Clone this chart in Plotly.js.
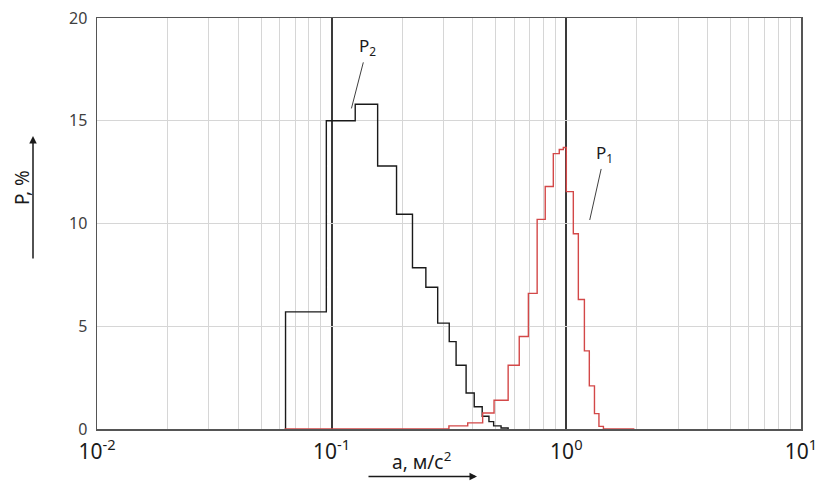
<!DOCTYPE html>
<html>
<head>
<meta charset="utf-8">
<script src="https://cdn.plot.ly/plotly-3.0.1.min.js"></script>
<style>html,body{margin:0;padding:0;background:#fff;}#chart{width:822px;height:481px;}</style>
</head>
<body>
<div id="chart"></div>
<script>
// Bin edges (a, m/s^2) and percentages
const edgesP2 = [0.0636, 0.0949, 0.126, 0.157, 0.189, 0.221, 0.252, 0.283, 0.317, 0.339, 0.374, 0.405, 0.438, 0.468, 0.49, 0.527, 0.565];
const valuesP2 = [5.7, 15.0, 15.8, 12.8, 10.45, 7.85, 6.9, 5.15, 4.25, 3.1, 1.75, 1.08, 0.62, 0.36, 0.15, 0.05];

const edgesP1 = [0.063, 0.316, 0.38, 0.44, 0.492, 0.565, 0.63, 0.689, 0.751, 0.813, 0.88, 0.933, 0.971, 1.0, 1.071, 1.125, 1.194, 1.253, 1.318, 1.377, 1.439, 1.95];
const valuesP1 = [0, 0.15, 0.3, 0.78, 1.4, 3.1, 4.5, 6.6, 10.2, 11.8, 13.4, 13.6, 13.7, 11.55, 9.5, 6.3, 3.8, 2.1, 0.75, 0.13, 0];

// Axis tick labels
const xTickVals = [0.01, 0.1, 1, 10];
const xTickText = ['10<sup>-2</sup>', '10<sup>-1</sup>', '10<sup>0</sup>', '10<sup>1</sup>'];
const yTickVals = [0, 5, 10, 15, 20];

const labelP2 = {text: 'P<sub>2</sub>', tipX: 0.1214, tipY: 15.6};
const labelP1 = {text: 'P<sub>1</sub>', tipX: 1.258, tipY: 10.17};

const FONT = 'Noto Sans, Open Sans, Liberation Sans, sans-serif';

// minor grid positions: 2..9 within each decade
const minorVals = [];
xTickVals.slice(0, -1).forEach(function (d) {
  for (let k = 2; k <= 9; k++) minorVals.push(d * k);
});

const traceP2 = {
  x: [edgesP2[0]].concat(edgesP2),
  y: [0].concat(valuesP2, [0]),
  type: 'scatter', mode: 'lines',
  line: {shape: 'hv', color: '#1a1a1a', width: 1.4},
  hoverinfo: 'skip'
};
const traceP1 = {
  x: [edgesP1[0]].concat(edgesP1),
  y: [0].concat(valuesP1, [0]),
  type: 'scatter', mode: 'lines',
  line: {shape: 'hv', color: '#d34848', width: 1.4},
  hoverinfo: 'skip'
};

const layout = {
  width: 822, height: 481,
  margin: {l: 97, r: 21, t: 18, b: 52},
  paper_bgcolor: '#ffffff', plot_bgcolor: '#ffffff',
  showlegend: false,
  font: {family: FONT, color: '#333'},
  xaxis: {
    type: 'log', range: [-2, 1],
    tickmode: 'array', tickvals: xTickVals, ticktext: xTickText,
    showgrid: true, gridcolor: '#3a3a3a', gridwidth: 1.8,
    minor: {tickmode: 'array', tickvals: minorVals, showgrid: true, gridcolor: '#d6d6d6', gridwidth: 1, ticks: ''},
    showline: true, linecolor: '#555', linewidth: 1.5, mirror: true,
    ticks: '', zeroline: false, ticklabelstandoff: 3,
    tickfont: {family: FONT, size: 21, color: '#1a1a1a'}
  },
  yaxis: {
    range: [0, 20], tickmode: 'array', tickvals: yTickVals,
    showgrid: true, gridcolor: '#d6d6d6', gridwidth: 1,
    showline: true, linecolor: '#555', linewidth: 1.5, mirror: true,
    ticks: '', zeroline: false, ticklabelstandoff: 5,
    tickfont: {family: FONT, size: 16, color: '#404040'}
  },
  annotations: [
    {x: Math.log10(labelP2.tipX), y: labelP2.tipY, xref: 'x', yref: 'y',
     text: labelP2.text, showarrow: true, arrowhead: 0, arrowwidth: 1, arrowcolor: '#404040',
     ax: 16, ay: -62, startstandoff: 2,
     font: {family: FONT, size: 17, color: '#1a1a1a'}},
    {x: Math.log10(labelP1.tipX), y: labelP1.tipY, xref: 'x', yref: 'y',
     text: labelP1.text, showarrow: true, arrowhead: 0, arrowwidth: 1, arrowcolor: '#404040',
     ax: 15, ay: -67, startstandoff: 2,
     font: {family: FONT, size: 17, color: '#1a1a1a'}},
    // y-axis title
    {x: (22 - 97) / 704, y: (429 - 188) / 411, xref: 'paper', yref: 'paper',
     text: 'P, %', textangle: -90, showarrow: false, xanchor: 'center', yanchor: 'middle',
     font: {family: FONT, size: 19, color: '#1a1a1a'}},
    {x: (33 - 97) / 704, y: (429 - 136) / 411, xref: 'paper', yref: 'paper',
     text: '', showarrow: true, arrowhead: 2, arrowsize: 1, arrowwidth: 1.5, arrowcolor: '#1a1a1a',
     ax: 0, ay: 124},
    // x-axis title
    {x: (421 - 97) / 704, y: (429 - 461) / 411, xref: 'paper', yref: 'paper',
     text: 'a, м/с<sup>2</sup>', showarrow: false, xanchor: 'center', yanchor: 'middle',
     font: {family: FONT, size: 19, color: '#1a1a1a'}},
    {x: (477 - 97) / 704, y: (429 - 476.5) / 411, xref: 'paper', yref: 'paper',
     text: '', showarrow: true, arrowhead: 2, arrowsize: 1, arrowwidth: 1.5, arrowcolor: '#1a1a1a',
     ax: -110, ay: 0}
  ]
};

Plotly.newPlot('chart', [traceP2, traceP1], layout, {displayModeBar: false, staticPlot: true});
</script>
</body>
</html>
